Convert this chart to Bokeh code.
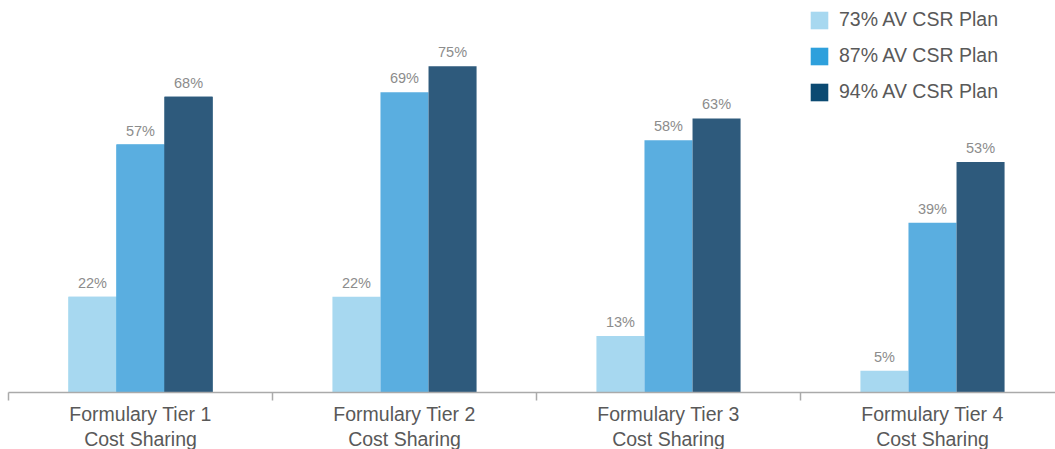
from bokeh.plotting import figure
from bokeh.models import ColumnDataSource, FixedTicker, Legend, LegendItem, Range1d
from bokeh.core.properties import value
from bokeh.embed import file_html
from bokeh.resources import INLINE

categories = ["Formulary Tier 1\nCost Sharing", "Formulary Tier 2\nCost Sharing",
              "Formulary Tier 3\nCost Sharing", "Formulary Tier 4\nCost Sharing"]
series_names = ["73% AV CSR Plan", "87% AV CSR Plan", "94% AV CSR Plan"]
plan73 = [22, 22, 13, 5]
plan87 = [57, 69, 58, 39]
plan94 = [68, 75, 63, 53]
bar_colors = ["#a7d8f0", "#5aaee0", "#2e5a7c"]
legend_colors = ["#a7d8f0", "#2ea0dc", "#0b4a72"]

FONT = "Liberation Sans"
FW, FH = 1047, 384
p = figure(frame_width=FW, frame_height=FH, output_backend="svg", toolbar_location=None,
           x_range=Range1d(0, FW / 264.0), y_range=Range1d(0, FH / 4.35),
           min_border_left=8, min_border_right=0, min_border_top=8, min_border_bottom=0)
p.outline_line_color = None
p.grid.visible = False
p.yaxis.visible = False
p.background_fill_color = "white"
p.border_fill_color = "white"

bw = 0.182
offsets = [-bw, 0.0, bw]
renderers = []
for k, (vals, col) in enumerate(zip([plan73, plan87, plan94], bar_colors)):
    xs = [i + 0.5 + offsets[k] for i in range(len(categories))]
    src = ColumnDataSource(dict(x=xs, top=vals, lab=[f"{v}%" for v in vals]))
    # legend proxy (hidden beneath the real bars)
    proxy_src = ColumnDataSource(dict(x=xs[:1], top=vals[:1]))
    proxy = p.vbar(x="x", top="top", width=bw, source=proxy_src,
                   fill_color=legend_colors[k], line_color=None)
    renderers.append(proxy)
    p.vbar(x="x", top="top", width=bw, source=src, fill_color=col, line_color=None)
    p.text(x="x", y="top", text="lab", source=src, text_align="center",
           text_baseline="alphabetic", y_offset=-14, text_font_size="14.5px",
           text_color="#8c8c8c", text_font=value(FONT))

ax = p.xaxis[0]
ax.ticker = FixedTicker(ticks=[i + 0.5 for i in range(len(categories))],
                        minor_ticks=list(range(len(categories) + 1)))
ax.major_label_overrides = {i + 0.5: c for i, c in enumerate(categories)}
ax.major_tick_line_color = None
ax.major_tick_out = 0
ax.major_tick_in = 0
ax.minor_tick_line_color = "#aaaaaa"
ax.minor_tick_out = 8
ax.minor_tick_in = 0
ax.axis_line_color = "#aaaaaa"
ax.axis_line_width = 1.5
ax.minor_tick_line_width = 1.5
ax.major_label_text_font = FONT
ax.major_label_text_font_size = "19.5px"
ax.major_label_text_color = "#595959"
ax.major_label_text_line_height = 1.15
ax.major_label_standoff = 2

legend = Legend(items=[LegendItem(label=n, renderers=[r]) for n, r in zip(series_names, renderers)],
                location=(800, 289), padding=0, margin=0, spacing=13,
                glyph_width=22, glyph_height=22, label_height=22, label_standoff=9,
                label_text_font=FONT, label_text_font_size="19.5px",
                label_text_color="#595959", border_line_color=None,
                background_fill_alpha=0)
p.add_layout(legend, "center")

open("out.html", "w").write(file_html(p, INLINE))
